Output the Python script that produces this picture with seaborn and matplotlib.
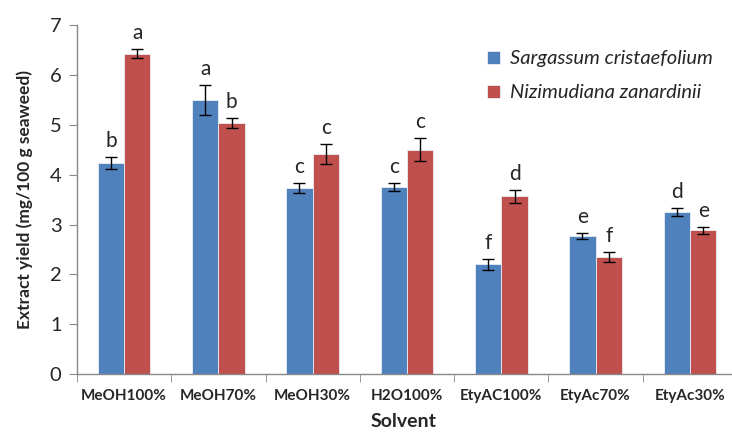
import numpy as np
import pandas as pd
import matplotlib
matplotlib.use("Agg")
import matplotlib.pyplot as plt
import seaborn as sns

solvents = ['MeOH100%', 'MeOH70%', 'MeOH30%', 'H2O100%', 'EtyAC100%', 'EtyAc70%', 'EtyAc30%']
species = ['Sargassum cristaefolium', 'Nizimudiana zanardinii']
sarg_mean = [4.23, 5.49, 3.73, 3.75, 2.20, 2.77, 3.25]
sarg_err = [0.12, 0.30, 0.10, 0.08, 0.11, 0.06, 0.08]
sarg_letters = ['b', 'a', 'c', 'c', 'f', 'e', 'd']
niz_mean = [6.43, 5.03, 4.41, 4.50, 3.57, 2.34, 2.89]
niz_err = [0.09, 0.10, 0.20, 0.23, 0.13, 0.10, 0.07]
niz_letters = ['a', 'b', 'c', 'c', 'd', 'f', 'e']

sns.set_style("white")
plt.rcParams['font.family'] = ['Lato', 'DejaVu Sans']

df = pd.DataFrame({
    'Solvent': solvents * 2,
    'Species': [species[0]] * 7 + [species[1]] * 7,
    'Yield': sarg_mean + niz_mean,
})

fig = plt.figure(figsize=(7.32, 4.33), dpi=100)
ax = fig.add_axes([0.105, 0.136, 0.8936, 0.806])

sns.barplot(data=df, x='Solvent', y='Yield', hue='Species', order=solvents,
            hue_order=species, palette=['#4F81BD', '#C0504D'], width=0.56,
            saturation=1, errorbar=None, edgecolor='#e8eef6', linewidth=0.6, ax=ax)

errs = [sarg_err, niz_err]
means = [sarg_mean, niz_mean]
letters = [sarg_letters, niz_letters]
bar_groups = list(ax.containers)
for k, cont in enumerate(bar_groups):
    for i, bar in enumerate(cont):
        cx = bar.get_x() + bar.get_width() / 2
        ax.errorbar(cx, means[k][i], yerr=errs[k][i], color='black', capsize=4,
                    elinewidth=1, capthick=1)
        ax.text(cx, means[k][i] + errs[k][i] + 0.12, letters[k][i], ha='center',
                va='bottom', fontsize=15)

ax.set_ylim(0, 7)
ax.set_xlim(-0.5, 6.435)
ax.set_yticks(range(0, 8))
ax.tick_params(axis='y', labelsize=14.5, length=6, color='#888888', direction='out', left=True, pad=5)
ax.tick_params(axis='x', which='major', length=0, labelsize=11, pad=11)
ax.set_xticks(np.arange(-0.5, 6.5, 1), minor=True)
ax.tick_params(axis='x', which='minor', length=6, color='#888888', direction='out', bottom=True)
for lbl in ax.get_xticklabels():
    lbl.set_fontweight('bold')

for s in ['top', 'right']:
    ax.spines[s].set_visible(False)
for s in ['left', 'bottom']:
    ax.spines[s].set_color('#888888')
    ax.spines[s].set_linewidth(1)

ax.set_xlabel('Solvent', fontsize=14, fontweight='bold', labelpad=7)
ax.set_ylabel('Extract yield (mg/100 g seaweed)', fontsize=12.5, fontweight='bold', labelpad=12)

leg = ax.legend(loc='upper left', bbox_to_anchor=(0.6, 0.98), frameon=False,
                prop={'style': 'italic', 'size': 14.5}, handlelength=0.6, handleheight=0.6,
                handletextpad=0.5, labelspacing=0.85)

fig.savefig('out.png', dpi=100)
